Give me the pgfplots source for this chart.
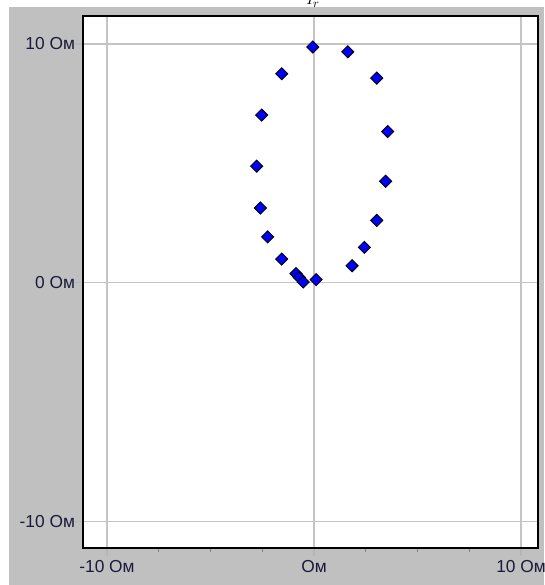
\documentclass[border=0pt]{standalone}
\usepackage{pgfplots}
\pgfplotsset{compat=1.18}
\usepackage{fontspec}
\setmainfont{Liberation Sans}
\definecolor{bg}{HTML}{C0C0C0}
\definecolor{gridc}{HTML}{C4C4C4}
\definecolor{labc}{HTML}{1A1A3A}
\begin{document}
\begin{tikzpicture}
\useasboundingbox (0,0) rectangle (408pt,438.75pt);
\fill[white] (0,0) rectangle (408pt,438.75pt);
\fill[bg] (6.75pt,0) rectangle (408pt,433.5pt);
\node[anchor=base, font=\fontsize{13}{13}\selectfont] at (234.75pt,435pt) {$I_r$};
\begin{axis}[
  at={(62.25pt,27.75pt)}, anchor=south west,
  scale only axis, width=341.25pt, height=399pt,
  xmin=-11.16, xmax=10.82, ymin=-11.11, ymax=11.17,
  axis background/.style={fill=white},
  axis line style={black, line width=1.6pt},
  xtick={-10,0,10}, ytick={-10,0,10},
  minor xtick={-7.5,-5,-2.5,2.5,5,7.5},
  xticklabels={-10 Ом, Ом, 10 Ом},
  yticklabels={-10 Ом, 0 Ом, 10 Ом},
  tick pos=left, tick align=outside,
  major tick length=6pt, minor tick length=3pt,
  major tick style={gridc!80!gray, line width=1pt},
  minor tick style={gray, line width=0.8pt},
  grid=major, major grid style={gridc, line width=1.1pt},
  ticklabel style={font=\fontsize{13}{13}\selectfont, text=labc},
  yticklabel style={xshift=3.5pt},
  every axis plot/.append style={only marks},
  clip=false,
]
\addplot[mark=square*, mark size=3.2pt, mark options={rotate=45, fill=blue, draw=black, line width=0.7pt}] coordinates {
(-0.06,9.87) (1.63,9.67) (-1.56,8.75) (3.03,8.57) (-2.53,7.02) (3.56,6.33)
(-2.77,4.88) (3.46,4.25) (-2.59,3.13) (3.03,2.61) (-2.24,1.92) (2.43,1.48)
(-1.56,0.99) (1.84,0.71) (-0.87,0.38) (-0.71,0.22) (-0.52,0.03) (0.10,0.13)
};
\end{axis}
\end{tikzpicture}
\end{document}
